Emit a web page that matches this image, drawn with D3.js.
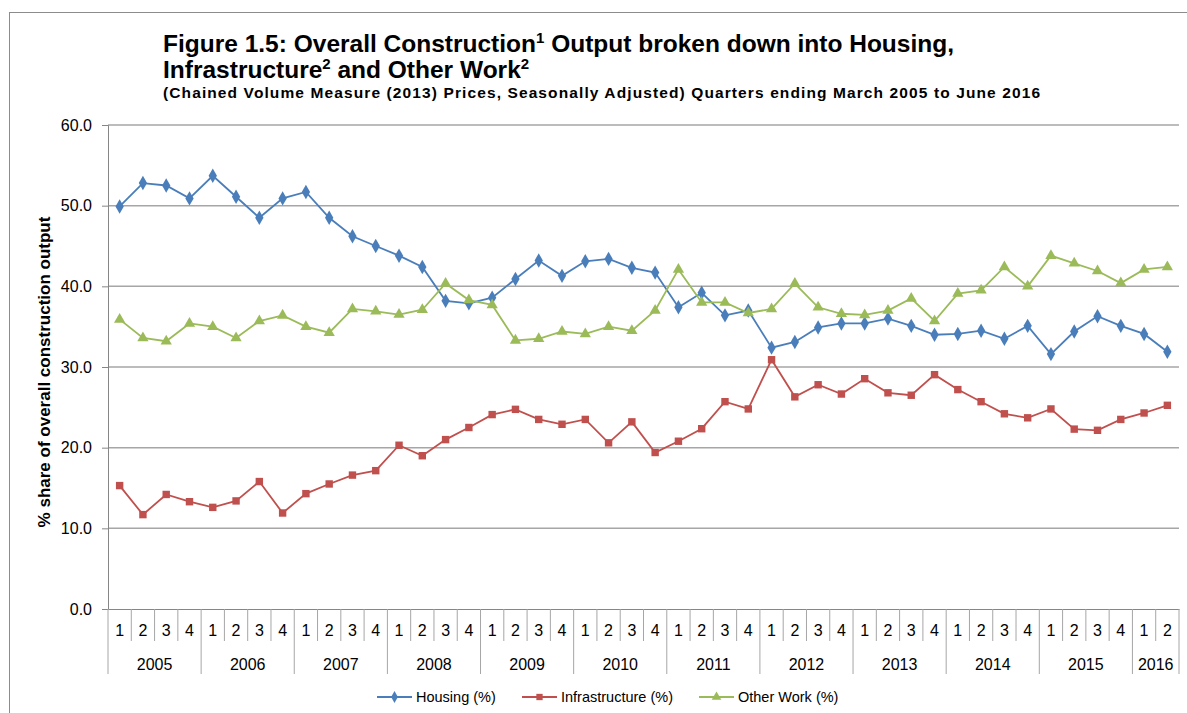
<!DOCTYPE html>
<html>
<head>
<meta charset="utf-8">
<script src="https://cdn.jsdelivr.net/npm/d3@7"></script>
<style>
  body { margin: 0; background: #fff; }
  svg { font-family: "Liberation Sans", Arial, sans-serif; }
</style>
</head>
<body>
<svg width="1187" height="713"></svg>
<script>
(function() {
	// quarters ending March 2005 to June 2016
	var years = ["2005","2006","2007","2008","2009","2010","2011","2012","2013","2014","2015","2016"];
	var quarterLabels = ["1","2","3","4"];
	var yTicks = [0, 10, 20, 30, 40, 50, 60];

	var housing = [49.9,52.8,52.5,50.9, 53.7,51.1,48.5,50.9, 51.7,48.5,46.2,45.0, 43.8,42.4,38.2,37.9,
		38.6,40.9,43.2,41.3, 43.1,43.4,42.3,41.7, 37.4,39.2,36.4,37.0, 32.4,33.1,34.9,35.4,
		35.4,36.0,35.1,34.0, 34.1,34.5,33.5,35.1, 31.6,34.4,36.3,35.1, 34.1,31.9];
	var infrastructure = [15.3,11.7,14.2,13.3, 12.6,13.4,15.8,11.9, 14.3,15.5,16.6,17.15, 20.3,19.0,21.0,22.5,
		24.1,24.75,23.5,22.9, 23.5,20.6,23.2,19.4, 20.8,22.35,25.7,24.8, 30.9,26.3,27.8,26.65,
		28.55,26.8,26.5,29.05, 27.2,25.7,24.2,23.7, 24.8,22.3,22.15,23.5, 24.3,25.25];
	var otherWork = [35.9,33.6,33.2,35.4, 35.0,33.6,35.7,36.4, 35.0,34.25,37.2,36.9, 36.5,37.1,40.35,38.3,
		37.7,33.3,33.5,34.4, 34.1,35.0,34.5,37.0, 42.1,38.0,38.0,36.7, 37.2,40.35,37.4,36.6,
		36.45,37.0,38.5,35.7, 39.1,39.5,42.4,40.0, 43.8,42.85,41.9,40.4, 42.1,42.4];

	var seriesNames = ["Housing (%)", "Infrastructure (%)", "Other Work (%)"];
	var colors = ["#4a7ebb", "#c0504d", "#9bbb59"];
	var symbols = [d3.symbolDiamond, d3.symbolSquare, d3.symbolTriangle];

	// build the category list (year + quarter)
	var cats = [];
	years.forEach(function(y) {
		quarterLabels.forEach(function(q) {
			if (cats.length < housing.length) cats.push({year: y, q: q, key: y + "-" + q});
		});
	});

	var svg = d3.select("svg");
	var left = 108, right = 1179, top = 125, bottom = 609;

	var x = d3.scaleBand().domain(cats.map(function(d) { return d.key; })).range([left, right]);
	var y = d3.scaleLinear().domain([0, 60]).range([bottom, top]);

	// outer chart border
	svg.append("rect").attr("x", 9.5).attr("y", 12.5).attr("width", 1300).attr("height", 800)
		.style("fill", "none").style("stroke", "#8c8c8c").style("stroke-width", "1px");

	// title
	var t1 = svg.append("text").attr("x", 163).attr("y", 52)
		.style("font-size", "24.5px").style("font-weight", "bold").style("fill", "#000");
	t1.append("tspan").text("Figure 1.5: Overall Construction");
	t1.append("tspan").attr("dy", -9).style("font-size", "15px").text("1");
	t1.append("tspan").attr("dy", 9).text(" Output broken down into Housing,");

	var t2 = svg.append("text").attr("x", 163).attr("y", 78)
		.style("font-size", "24.5px").style("font-weight", "bold").style("fill", "#000");
	t2.append("tspan").text("Infrastructure");
	t2.append("tspan").attr("dy", -9).style("font-size", "15px").text("2");
	t2.append("tspan").attr("dy", 9).text(" and Other Work");
	t2.append("tspan").attr("dy", -9).style("font-size", "15px").text("2");

	svg.append("text").attr("x", 163).attr("y", 98)
		.attr("textLength", 877).attr("lengthAdjust", "spacing")
		.style("font-size", "15.5px").style("font-weight", "bold").style("fill", "#000")
		.text("(Chained Volume Measure (2013)  Prices, Seasonally Adjusted)  Quarters ending March 2005 to June 2016");

	// gridlines
	svg.append("g").selectAll("line").data(yTicks.slice(1)).enter().append("line")
		.attr("x1", left).attr("x2", right)
		.attr("y1", function(d) { return y(d); }).attr("y2", function(d) { return y(d); })
		.style("stroke", "#a6a6a6").style("stroke-width", "1.5px");

	// y axis
	var yAxis = svg.append("g").attr("transform", "translate(" + left + ",0)")
		.call(d3.axisLeft(y).tickValues(yTicks).tickFormat(d3.format(".1f")).tickSize(6).tickPadding(10));
	yAxis.select(".domain").style("stroke", "#868686");
	yAxis.selectAll(".tick line").style("stroke", "#868686");
	yAxis.selectAll("text").style("font-size", "16px").style("fill", "#000").style("font-family", "Liberation Sans, Arial, sans-serif");

	svg.append("text").attr("transform", "translate(50," + 372 + ") rotate(-90)")
		.attr("text-anchor", "middle")
		.style("font-size", "17px").style("font-weight", "bold").style("fill", "#000")
		.text("% share of overall construction output");

	// x axis: quarters
	var xAxis = svg.append("g").attr("transform", "translate(0," + bottom + ")")
		.call(d3.axisBottom(x).tickSize(0).tickPadding(16).tickFormat(function(k, i) { return cats[i].q; }));
	xAxis.select(".domain").style("stroke", "#868686");
	xAxis.selectAll("text").style("font-size", "16px").style("fill", "#000").style("font-family", "Liberation Sans, Arial, sans-serif");

	// separators between categories
	var sep = svg.append("g").style("stroke", "#a6a6a6").style("stroke-width", "1px");
	cats.forEach(function(d, i) {
		var xx = x(d.key);
		var isYear = d.q === "1";
		sep.append("line").attr("x1", xx).attr("x2", xx).attr("y1", bottom).attr("y2", isYear ? 674 : 641);
	});
	sep.append("line").attr("x1", right).attr("x2", right).attr("y1", bottom).attr("y2", 674);

	// year labels
	var yearGroups = d3.groups(cats, function(d) { return d.year; });
	svg.append("g").selectAll("text").data(yearGroups).enter().append("text")
		.attr("x", function(g) {
			var first = g[1][0], last = g[1][g[1].length - 1];
			return (x(first.key) + x(last.key) + x.bandwidth()) / 2;
		})
		.attr("y", 670)
		.attr("text-anchor", "middle")
		.style("font-size", "16px").style("fill", "#000")
		.text(function(g) { return g[0]; });

	// series
	var series = [housing, infrastructure, otherWork];
	var line = d3.line()
		.x(function(d, i) { return x(cats[i].key) + x.bandwidth() / 2; })
		.y(function(d) { return y(d); });

	series.forEach(function(vals, s) {
		svg.append("path").datum(vals).attr("d", line)
			.style("fill", "none").style("stroke", colors[s]).style("stroke-width", "1.8px");
		svg.append("g").selectAll("path").data(vals).enter().append("path")
			.attr("transform", function(d, i) { return "translate(" + (x(cats[i].key) + x.bandwidth() / 2) + "," + y(d) + ")"; })
			.attr("d", d3.symbol().type(symbols[s]).size(s === 0 ? 60 : 55))
			.style("fill", colors[s]);
	});

	// legend
	var legendX = [377, 522, 699];
	var legend = svg.append("g");
	seriesNames.forEach(function(name, s) {
		var lx = legendX[s], ly = 697;
		legend.append("line").attr("x1", lx).attr("x2", lx + 35).attr("y1", ly).attr("y2", ly)
			.style("stroke", colors[s]).style("stroke-width", "1.8px");
		legend.append("path").attr("transform", "translate(" + (lx + 17.5) + "," + ly + ")")
			.attr("d", d3.symbol().type(symbols[s]).size(40)).style("fill", colors[s]);
		legend.append("text").attr("x", lx + 39).attr("y", ly + 5)
			.style("font-size", "14.5px").style("fill", "#000").text(name);
	});
})();
</script>
</body>
</html>
